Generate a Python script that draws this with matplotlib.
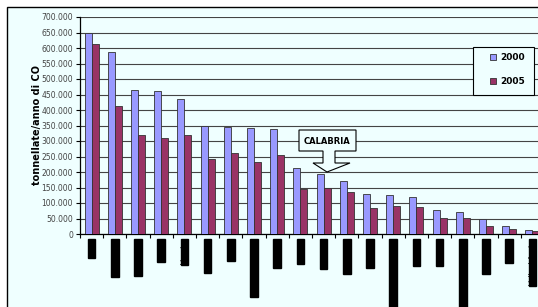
import matplotlib.pyplot as plt
import matplotlib.ticker as mticker
from matplotlib.patches import Polygon, Rectangle
import numpy as np

# regioni ordinate per emissioni 2000
regioni = ["Lazio", "Lombardia", "Campania", "Puglia", "Veneto", "Piemonte",
           "Sicilia", "Emilia Romagna", "Toscana", "Liguria", "Calabria",
           "Sardegna", "Abruzzo", "Friuli Venezia Giulia", "Marche", "Umbria",
           "Trentino Alto Adige", "Basilicata", "Molise", "Valle d Aosta"]
co_2000 = [648000, 586000, 463000, 460000, 436000, 348000, 345000, 342000, 338000,
           213000, 193000, 172000, 128000, 125000, 118000, 78000, 71000, 47000,
           27000, 13000]
co_2005 = [612000, 412000, 318000, 311000, 318000, 243000, 260000, 233000, 254000,
           145000, 149000, 135000, 85000, 91000, 88000, 51000, 51000, 27000,
           17000, 10000]

W, H = 538, 307
BG = "#EFFFFF"

fig = plt.figure(figsize=(W / 100, H / 100), dpi=100, facecolor="white")

# bordo dell'area del grafico
fig.patches.append(Rectangle((7 / W, -0.1), 1.2, 1 - 7 / H + 0.1, transform=fig.transFigure,
                             facecolor=BG, edgecolor="black", linewidth=1, zorder=-1))

ax = fig.add_axes([80 / W, (H - 234) / H, 464 / W, 217 / H])
ax.set_facecolor(BG)

x = np.arange(len(regioni))
w = 0.3
ax.bar(x - w / 2, co_2000, w, color="#9999FF", edgecolor="#333333", linewidth=0.6,
       label="2000", zorder=3)
ax.bar(x + w / 2, co_2005, w, color="#993366", edgecolor="#333333", linewidth=0.6,
       label="2005", zorder=3)

ax.set_xlim(-0.5, len(regioni) - 0.5)
ax.set_ylim(0, 700000)
ax.yaxis.set_major_locator(mticker.MultipleLocator(50000))
ax.yaxis.set_major_formatter(mticker.FuncFormatter(lambda v, p: f"{int(v):,}".replace(",", ".")))
ax.grid(axis="y", color="#444444", linewidth=0.8, zorder=0)
ax.tick_params(axis="y", labelsize=5.5, labelcolor="#444444", length=3, width=0.8, pad=2)

for s in ["top", "right"]:
    ax.spines[s].set_visible(False)
for s in ["left", "bottom"]:
    ax.spines[s].set_linewidth(0.9)

ax.set_xticks(x)
ax.set_xticklabels(regioni, rotation=90, fontsize=5, color="black", va="top")
ax.set_xticks(np.arange(len(regioni) + 1) - 0.5, minor=True)
ax.tick_params(axis="x", which="major", length=0, pad=4)
ax.tick_params(axis="x", which="minor", length=3, width=0.8, direction="out")
for t in ax.get_xticklabels():
    t.set_bbox(dict(facecolor="black", edgecolor="black", pad=0.6))

fig.text(37 / W, 1 - 125 / H, "tonnellate/anno di CO", rotation=90, fontsize=7,
         fontweight="bold", ha="center", va="center")

# legenda: cornice disegnata a parte
fig.patches.append(Rectangle((473 / W, 1 - 95 / H), 61 / W, 48 / H, transform=fig.transFigure,
                             facecolor=BG, edgecolor="black", linewidth=0.8, zorder=4))
leg = fig.legend(loc="upper left", bbox_to_anchor=(490 / W, 1 - 53 / H),
                 bbox_transform=fig.transFigure, prop={"weight": "bold", "size": 6.5},
                 frameon=False, handlelength=0.7, handleheight=0.7, labelspacing=1.7,
                 borderpad=0, borderaxespad=0, handletextpad=0.4)
leg.set_zorder(6)

# callout CALABRIA
pts = [(299, 130), (356, 130), (356, 151), (335, 151), (335, 163), (350, 163),
       (327, 172), (313, 163), (323, 163), (323, 151), (299, 151)]
fig.patches.append(Polygon([(px / W, 1 - py / H) for px, py in pts], closed=True,
                           transform=fig.transFigure, facecolor=BG, edgecolor="black",
                           linewidth=0.8, zorder=5))
fig.text(327.5 / W, 1 - 141 / H, "CALABRIA", fontsize=6, fontweight="bold",
         ha="center", va="center", zorder=6)

fig.savefig("out.png", dpi=100, facecolor="white")
